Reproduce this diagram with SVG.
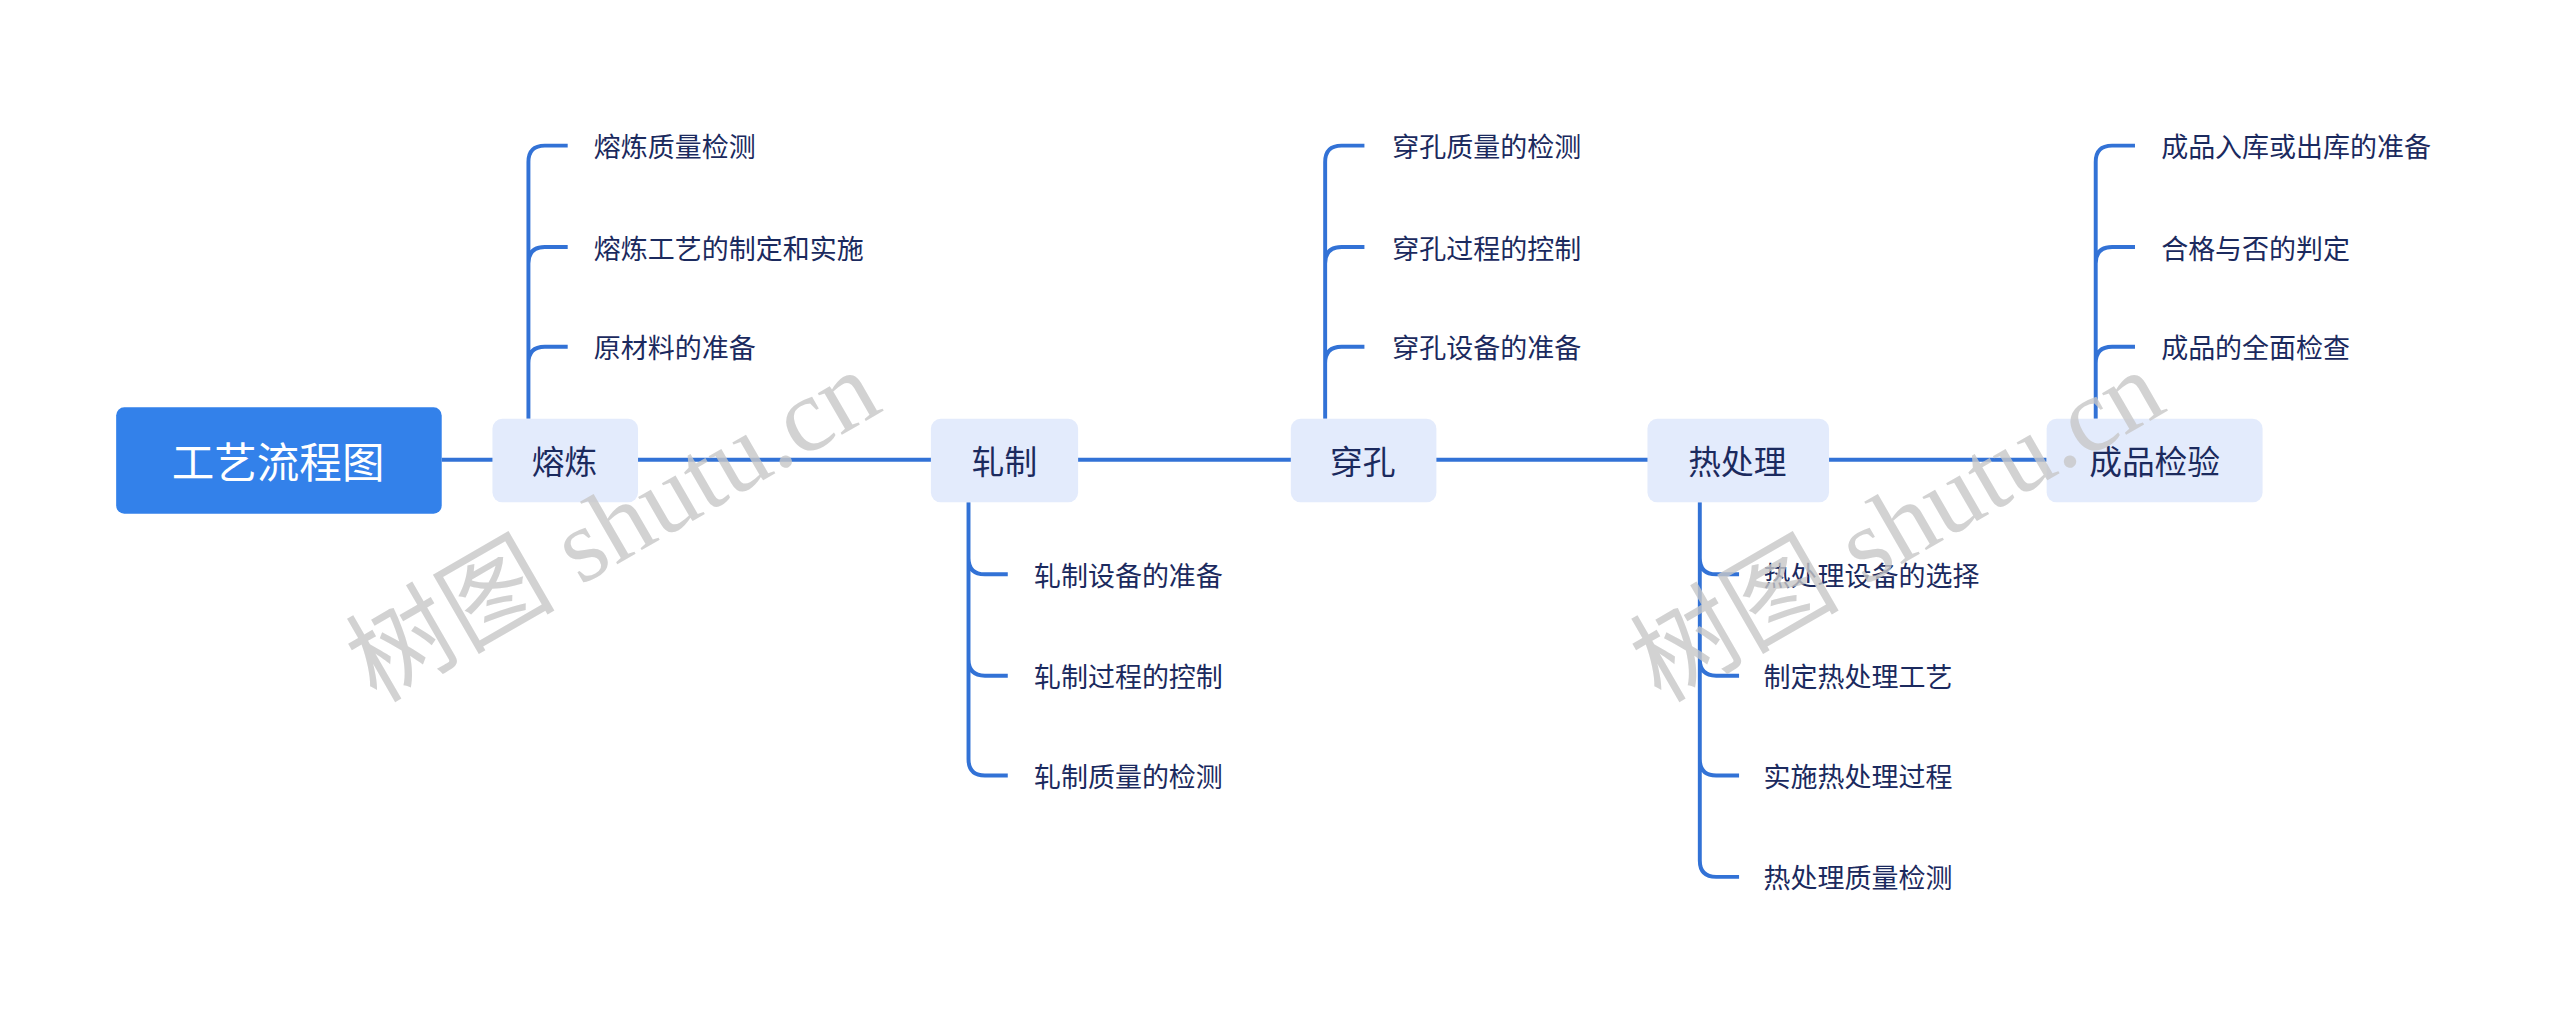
<svg xmlns="http://www.w3.org/2000/svg" width="2560" height="1020" viewBox="0 0 2560 1020">
<style>
.l{fill:none;stroke:#3272d6;stroke-width:2.4}
.n{fill:#e3ebfc}
.t{font-family:"Noto Sans CJK SC",sans-serif;fill:#1b2a5e;text-anchor:middle;dominant-baseline:central;font-size:20px}
.c{font-family:"Noto Sans CJK SC",sans-serif;fill:#1b2a5e;dominant-baseline:central;font-size:16.5px}
.w{font-family:"Liberation Serif","Noto Sans CJK SC",serif;fill:#c8c8c8;font-size:64px;opacity:0.8}
</style>
<rect width="2560" height="1020" fill="#fff"/>
<g transform="scale(1.636)">
<g id="connectors">
<path class="l" d="M270 281H1251"/>
<path class="l" d="M323 256V99Q323 89 333 89H347M323 161Q323 151 333 151H347M323 222Q323 212 333 212H347"/>
<path class="l" d="M592 307V464Q592 474 602 474H616M592 341Q592 351 602 351H616M592 403Q592 413 602 413H616"/>
<path class="l" d="M810 256V99Q810 89 820 89H834M810 161Q810 151 820 151H834M810 222Q810 212 820 212H834"/>
<path class="l" d="M1039 307V526Q1039 536 1049 536H1063M1039 341Q1039 351 1049 351H1063M1039 403Q1039 413 1049 413H1063M1039 464Q1039 474 1049 474H1063"/>
<path class="l" d="M1281 256V99Q1281 89 1291 89H1305M1281 161Q1281 151 1291 151H1305M1281 222Q1281 212 1291 212H1305"/>
</g>
<g id="root"><rect x="71" y="249" width="199" height="65" rx="5" fill="#3381ea"/><text class="t" x="170" y="281" style="fill:#fff;font-size:26px">工艺流程图</text></g>
<g id="n1"><rect class="n" x="301" y="256" width="89" height="51" rx="6"/><text class="t" x="345" y="281">熔炼</text></g>
<g id="n2"><rect class="n" x="569" y="256" width="90" height="51" rx="6"/><text class="t" x="614" y="281">轧制</text></g>
<g id="n3"><rect class="n" x="789" y="256" width="89" height="51" rx="6"/><text class="t" x="833" y="281">穿孔</text></g>
<g id="n4"><rect class="n" x="1007" y="256" width="111" height="51" rx="6"/><text class="t" x="1062" y="281">热处理</text></g>
<g id="n5"><rect class="n" x="1251" y="256" width="132" height="51" rx="6"/><text class="t" x="1317" y="281">成品检验</text></g>
<g id="c1"><text class="c" x="363" y="89">熔炼质量检测</text><text class="c" x="363" y="151">熔炼工艺的制定和实施</text><text class="c" x="363" y="212">原材料的准备</text></g>
<g id="c2"><text class="c" x="632" y="351">轧制设备的准备</text><text class="c" x="632" y="413">轧制过程的控制</text><text class="c" x="632" y="474">轧制质量的检测</text></g>
<g id="c3"><text class="c" x="851" y="89">穿孔质量的检测</text><text class="c" x="851" y="151">穿孔过程的控制</text><text class="c" x="851" y="212">穿孔设备的准备</text></g>
<g id="c4"><text class="c" x="1078" y="351">热处理设备的选择</text><text class="c" x="1078" y="413">制定热处理工艺</text><text class="c" x="1078" y="474">实施热处理过程</text><text class="c" x="1078" y="536">热处理质量检测</text></g>
<g id="c5"><text class="c" x="1321" y="89">成品入库或出库的准备</text><text class="c" x="1321" y="151">合格与否的判定</text><text class="c" x="1321" y="212">成品的全面检查</text></g>
<text class="w" transform="translate(230 430) rotate(-30)">树图 shutu.cn</text>
<text class="w" transform="translate(1015 430) rotate(-30)">树图 shutu.cn</text>
</g>
</svg>
